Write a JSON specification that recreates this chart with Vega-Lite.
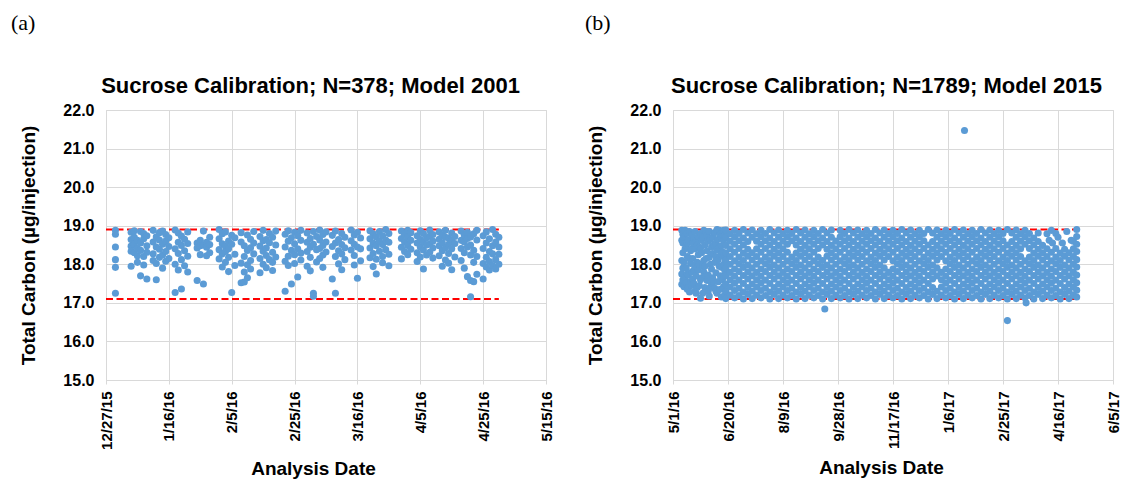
{
"$schema": "https://vega.github.io/schema/vega-lite/v6.json",
"background": "white",
"padding": {"left": 10, "top": 11, "right": 5, "bottom": 0},
"bounds": "flush",
"spacing": 127,
"config": {
"view": {"stroke": "#d9d9d9", "strokeWidth": 1},
"axis": {"labelFont": "Liberation Sans", "labelFontWeight": "bold", "labelFontSize": 15, "labelColor": "#000000", "titleFont": "Liberation Sans", "titleFontWeight": "bold", "titleFontSize": 19, "titleColor": "#000000", "gridColor": "#d9d9d9", "gridWidth": 1, "domainColor": "#d9d9d9", "tickColor": "#d9d9d9", "labelFlush": false, "labelOverlap": false},
"title": {"font": "Liberation Serif", "fontSize": 22, "fontWeight": "normal", "color": "#000000", "anchor": "start", "frame": "group", "offset": 40}
},
"hconcat": [
{
"width": 440, "height": 270,
"title": {"text": "(a)", "dx": -95},
"encoding": {
"y": {"field": "v", "type": "quantitative", "scale": {"domain": [15, 22], "nice": false, "zero": false},
"axis": {"orient": "left", "title": "Total Carbon (µg/injection)", "values": [15, 16, 17, 18, 19, 20, 21, 22], "tickCount": 8, "format": ".1f", "grid": true, "ticks": false, "tickSize": 0, "domain": false, "labelPadding": 12, "labelFontSize": 16, "titlePadding": 24}}
},
"layer": [
{
"data": {"values": [{"s1": 42365, "s2": 42490, "v": 18.9}, {"s1": 42365, "s2": 42490, "v": 17.1}]},
"mark": {"type": "rule", "color": "#ff0000", "strokeWidth": 2, "strokeDash": [7, 3.5]},
"encoding": {
"x": {"field": "s1", "type": "quantitative", "axis": {"orient": "top", "title": "Sucrose Calibration; N=378; Model 2001", "labels": false, "ticks": false, "grid": false, "domain": false, "titleFontSize": 22, "titlePadding": 12.5, "titleX": 204}},
"x2": {"field": "s2"}
}
},
{
"data": {"values": [
{"s":42368,"v":18.88},{"s":42368,"v":18.78},{"s":42368,"v":18.45},{"s":42368,"v":18.12},{"s":42368,"v":17.92},{"s":42368,"v":17.25},
{"s":42373,"v":18.83},{"s":42373,"v":18.64},{"s":42373,"v":18.47},{"s":42373,"v":18.34},{"s":42373,"v":17.95},
{"s":42374,"v":18.87},{"s":42374,"v":18.70},{"s":42374,"v":18.52},{"s":42374,"v":18.30},
{"s":42375,"v":18.62},{"s":42375,"v":18.41},{"s":42375,"v":18.22},{"s":42375,"v":18.05},
{"s":42376,"v":18.85},{"s":42376,"v":18.55},{"s":42376,"v":18.36},{"s":42376,"v":17.70},
{"s":42377,"v":18.80},{"s":42377,"v":18.66},{"s":42377,"v":18.20},{"s":42377,"v":17.98},
{"s":42378,"v":18.74},{"s":42378,"v":18.48},{"s":42378,"v":18.31},{"s":42378,"v":17.62},
{"s":42380,"v":18.88},{"s":42380,"v":18.58},{"s":42380,"v":18.27},{"s":42380,"v":18.10},
{"s":42381,"v":18.71},{"s":42381,"v":18.45},{"s":42381,"v":18.02},{"s":42381,"v":17.60},
{"s":42382,"v":18.82},{"s":42382,"v":18.63},{"s":42382,"v":18.39},{"s":42382,"v":18.18},
{"s":42383,"v":18.86},{"s":42383,"v":18.52},{"s":42383,"v":18.24},{"s":42383,"v":17.90},
{"s":42384,"v":18.77},{"s":42384,"v":18.60},{"s":42384,"v":18.33},{"s":42384,"v":18.08},
{"s":42385,"v":18.69},{"s":42385,"v":18.46},{"s":42385,"v":18.15},
{"s":42387,"v":18.89},{"s":42387,"v":18.40},{"s":42387,"v":18.00},{"s":42387,"v":17.27},
{"s":42388,"v":18.81},{"s":42388,"v":18.57},{"s":42388,"v":18.28},{"s":42388,"v":17.85},
{"s":42389,"v":18.73},{"s":42389,"v":18.49},{"s":42389,"v":18.12},{"s":42389,"v":17.36},
{"s":42390,"v":18.65},{"s":42390,"v":18.35},{"s":42390,"v":17.96},
{"s":42391,"v":18.84},{"s":42391,"v":18.54},{"s":42391,"v":18.21},{"s":42391,"v":17.80},
{"s":42394,"v":18.55},{"s":42394,"v":18.42},{"s":42394,"v":17.58},
{"s":42395,"v":18.62},{"s":42395,"v":18.48},{"s":42395,"v":18.25},
{"s":42396,"v":18.86},{"s":42396,"v":18.50},{"s":42396,"v":17.49},
{"s":42397,"v":18.57},{"s":42397,"v":18.44},{"s":42397,"v":18.22},
{"s":42398,"v":18.70},{"s":42398,"v":18.51},{"s":42398,"v":18.30},
{"s":42401,"v":18.90},{"s":42401,"v":18.66},{"s":42401,"v":18.38},{"s":42401,"v":18.14},
{"s":42402,"v":18.79},{"s":42402,"v":18.53},{"s":42402,"v":18.27},{"s":42402,"v":17.93},
{"s":42403,"v":18.84},{"s":42403,"v":18.47},{"s":42403,"v":18.33},{"s":42403,"v":18.05},
{"s":42404,"v":18.60},{"s":42404,"v":18.40},{"s":42404,"v":18.18},{"s":42404,"v":17.81},
{"s":42405,"v":18.75},{"s":42405,"v":18.52},{"s":42405,"v":17.27},
{"s":42406,"v":18.69},{"s":42406,"v":18.26},{"s":42406,"v":17.97},
{"s":42408,"v":18.82},{"s":42408,"v":18.58},{"s":42408,"v":18.03},{"s":42408,"v":17.52},
{"s":42409,"v":18.48},{"s":42409,"v":18.20},{"s":42409,"v":17.80},{"s":42409,"v":17.54},
{"s":42410,"v":18.76},{"s":42410,"v":18.36},{"s":42410,"v":17.99},{"s":42410,"v":17.65},
{"s":42411,"v":18.65},{"s":42411,"v":18.43},{"s":42411,"v":18.10},{"s":42411,"v":17.88},
{"s":42412,"v":18.85},{"s":42412,"v":18.55},{"s":42412,"v":18.27},
{"s":42414,"v":18.72},{"s":42414,"v":18.47},{"s":42414,"v":18.15},{"s":42414,"v":17.78},
{"s":42415,"v":18.88},{"s":42415,"v":18.61},{"s":42415,"v":18.34},{"s":42415,"v":18.00},
{"s":42416,"v":18.64},{"s":42416,"v":18.42},{"s":42416,"v":18.23},{"s":42416,"v":17.91},
{"s":42417,"v":18.80},{"s":42417,"v":18.56},{"s":42417,"v":18.12},
{"s":42418,"v":18.70},{"s":42418,"v":18.31},{"s":42418,"v":18.05},{"s":42418,"v":17.84},
{"s":42419,"v":18.86},{"s":42419,"v":18.50},{"s":42419,"v":18.19},
{"s":42422,"v":18.78},{"s":42422,"v":18.45},{"s":42422,"v":18.08},{"s":42422,"v":17.30},
{"s":42423,"v":18.87},{"s":42423,"v":18.60},{"s":42423,"v":18.21},{"s":42423,"v":17.97},
{"s":42424,"v":18.69},{"s":42424,"v":18.36},{"s":42424,"v":17.49},
{"s":42425,"v":18.83},{"s":42425,"v":18.53},{"s":42425,"v":18.25},{"s":42425,"v":18.02},
{"s":42426,"v":18.74},{"s":42426,"v":18.40},{"s":42426,"v":17.67},
{"s":42427,"v":18.88},{"s":42427,"v":18.62},{"s":42427,"v":18.29},{"s":42427,"v":18.11},
{"s":42429,"v":18.81},{"s":42429,"v":18.57},{"s":42429,"v":18.33},{"s":42429,"v":17.95},
{"s":42430,"v":18.67},{"s":42430,"v":18.44},{"s":42430,"v":18.18},{"s":42430,"v":17.83},
{"s":42431,"v":18.85},{"s":42431,"v":18.52},{"s":42431,"v":17.25},{"s":42431,"v":17.17},
{"s":42432,"v":18.72},{"s":42432,"v":18.38},{"s":42432,"v":18.06},
{"s":42433,"v":18.89},{"s":42433,"v":18.63},{"s":42433,"v":18.41},{"s":42433,"v":18.15},
{"s":42434,"v":18.77},{"s":42434,"v":18.49},{"s":42434,"v":18.24},{"s":42434,"v":17.92},
{"s":42435,"v":18.84},{"s":42435,"v":18.58},{"s":42435,"v":18.32},
{"s":42437,"v":18.75},{"s":42437,"v":18.46},{"s":42437,"v":17.62},
{"s":42438,"v":18.86},{"s":42438,"v":18.55},{"s":42438,"v":18.20},{"s":42438,"v":17.25},
{"s":42439,"v":18.64},{"s":42439,"v":18.35},{"s":42439,"v":18.01},
{"s":42440,"v":18.80},{"s":42440,"v":18.51},{"s":42440,"v":18.27},{"s":42440,"v":17.86},
{"s":42441,"v":18.70},{"s":42441,"v":18.43},{"s":42441,"v":18.12},
{"s":42443,"v":18.89},{"s":42443,"v":18.61},{"s":42443,"v":18.37},
{"s":42444,"v":18.76},{"s":42444,"v":18.52},{"s":42444,"v":18.23},{"s":42444,"v":17.98},
{"s":42445,"v":18.83},{"s":42445,"v":18.45},{"s":42445,"v":17.64},
{"s":42446,"v":18.68},{"s":42446,"v":18.40},{"s":42446,"v":18.09},
{"s":42449,"v":18.87},{"s":42449,"v":18.66},{"s":42449,"v":18.42},{"s":42449,"v":18.17},
{"s":42450,"v":18.79},{"s":42450,"v":18.55},{"s":42450,"v":18.28},{"s":42450,"v":17.94},
{"s":42451,"v":18.71},{"s":42451,"v":18.48},{"s":42451,"v":18.13},{"s":42451,"v":17.75},
{"s":42452,"v":18.85},{"s":42452,"v":18.60},{"s":42452,"v":18.34},
{"s":42453,"v":18.74},{"s":42453,"v":18.51},{"s":42453,"v":18.20},{"s":42453,"v":18.04},
{"s":42454,"v":18.90},{"s":42454,"v":18.63},{"s":42454,"v":18.38},
{"s":42455,"v":18.80},{"s":42455,"v":18.57},{"s":42455,"v":18.26},{"s":42455,"v":17.96},
{"s":42459,"v":18.86},{"s":42459,"v":18.67},{"s":42459,"v":18.44},{"s":42459,"v":18.14},
{"s":42460,"v":18.78},{"s":42460,"v":18.58},{"s":42460,"v":18.33},
{"s":42461,"v":18.88},{"s":42461,"v":18.70},{"s":42461,"v":18.49},{"s":42461,"v":18.25},
{"s":42462,"v":18.82},{"s":42462,"v":18.62},{"s":42462,"v":18.39},
{"s":42464,"v":18.74},{"s":42464,"v":18.55},{"s":42464,"v":18.30},{"s":42464,"v":18.07},
{"s":42465,"v":18.87},{"s":42465,"v":18.64},{"s":42465,"v":18.45},{"s":42465,"v":18.19},
{"s":42466,"v":18.80},{"s":42466,"v":18.58},{"s":42466,"v":18.37},{"s":42466,"v":17.88},
{"s":42467,"v":18.69},{"s":42467,"v":18.50},{"s":42467,"v":18.24},
{"s":42468,"v":18.89},{"s":42468,"v":18.73},{"s":42468,"v":18.53},{"s":42468,"v":18.31},
{"s":42469,"v":18.77},{"s":42469,"v":18.60},{"s":42469,"v":18.42},{"s":42469,"v":18.16},
{"s":42471,"v":18.84},{"s":42471,"v":18.65},{"s":42471,"v":18.48},{"s":42471,"v":18.22},
{"s":42472,"v":18.75},{"s":42472,"v":18.56},{"s":42472,"v":18.35},{"s":42472,"v":17.95},
{"s":42473,"v":18.88},{"s":42473,"v":18.70},{"s":42473,"v":18.43},{"s":42473,"v":18.11},
{"s":42474,"v":18.68},{"s":42474,"v":18.52},{"s":42474,"v":18.28},{"s":42474,"v":18.03},
{"s":42475,"v":18.81},{"s":42475,"v":18.61},{"s":42475,"v":18.40},{"s":42475,"v":17.86},
{"s":42476,"v":18.72},{"s":42476,"v":18.54},{"s":42476,"v":18.19},
{"s":42478,"v":18.86},{"s":42478,"v":18.62},{"s":42478,"v":18.41},{"s":42478,"v":18.10},
{"s":42479,"v":18.76},{"s":42479,"v":18.58},{"s":42479,"v":18.30},{"s":42479,"v":17.90},
{"s":42480,"v":18.83},{"s":42480,"v":18.67},{"s":42480,"v":18.45},{"s":42480,"v":17.68},
{"s":42481,"v":18.71},{"s":42481,"v":18.50},{"s":42481,"v":18.24},{"s":42481,"v":17.58},{"s":42481,"v":17.16},
{"s":42482,"v":18.79},{"s":42482,"v":18.36},{"s":42482,"v":18.05},{"s":42482,"v":17.55},
{"s":42483,"v":18.88},{"s":42483,"v":18.63},{"s":42483,"v":18.20},{"s":42483,"v":17.74},
{"s":42485,"v":18.74},{"s":42485,"v":18.41},{"s":42485,"v":18.02},{"s":42485,"v":17.62},
{"s":42486,"v":18.84},{"s":42486,"v":18.55},{"s":42486,"v":18.18},{"s":42486,"v":17.93},
{"s":42487,"v":18.66},{"s":42487,"v":18.33},{"s":42487,"v":18.07},{"s":42487,"v":17.85},
{"s":42488,"v":18.90},{"s":42488,"v":18.48},{"s":42488,"v":18.27},{"s":42488,"v":17.97},
{"s":42489,"v":18.78},{"s":42489,"v":18.58},{"s":42489,"v":18.12},{"s":42489,"v":17.88},
{"s":42490,"v":18.70},{"s":42490,"v":18.45},{"s":42490,"v":18.26},{"s":42490,"v":18.00}
]},
"mark": {"type": "circle", "size": 50, "color": "#5b9bd5", "opacity": 1},
"encoding": {
"x": {"field": "s", "type": "quantitative", "scale": {"domain": [42365, 42505], "nice": false, "zero": false},
"axis": {"orient": "bottom", "title": "Analysis Date", "values": [42365, 42385, 42405, 42425, 42445, 42465, 42485, 42505], "labelExpr": "utcFormat(utc(1899, 11, 30 + datum.value), '%-m/%-d/%y')", "labelAngle": -90, "grid": true, "ticks": true, "tickSize": 4, "labelPadding": 7, "domain": true, "titlePadding": 10, "titleX": 207}}
}
}
]
},
{
"width": 440, "height": 270,
"title": {"text": "(b)", "dx": -88},
"encoding": {
"y": {"field": "v", "type": "quantitative", "scale": {"domain": [15, 22], "nice": false, "zero": false},
"axis": {"orient": "left", "title": "Total Carbon (µg/injection)", "values": [15, 16, 17, 18, 19, 20, 21, 22], "tickCount": 8, "format": ".1f", "grid": true, "ticks": false, "tickSize": 0, "domain": false, "labelPadding": 12, "labelFontSize": 16, "titlePadding": 24}}
},
"layer": [
{
"data": {"values": [{"s1": 42491, "s2": 42858, "v": 18.9}, {"s1": 42491, "s2": 42858, "v": 17.1}]},
"mark": {"type": "rule", "color": "#ff0000", "strokeWidth": 2, "strokeDash": [7, 3.5]},
"encoding": {
"x": {"field": "s1", "type": "quantitative", "axis": {"orient": "top", "title": "Sucrose Calibration; N=1789; Model 2015", "labels": false, "ticks": false, "grid": false, "domain": false, "titleFontSize": 22, "titlePadding": 12.5, "titleX": 213}},
"x2": {"field": "s2"}
}
},
{
"data": {"values": [
{"s":42499,"v":18.62},{"s":42499,"v":17.75},{"s":42499,"v":17.48},{"s":42499,"v":18.88},{"s":42499,"v":18.10},
{"s":42500,"v":18.55},{"s":42500,"v":18.30},{"s":42500,"v":17.60},{"s":42500,"v":18.78},{"s":42500,"v":17.90},
{"s":42501,"v":18.70},{"s":42501,"v":18.05},{"s":42501,"v":17.42},
{"s":42502,"v":18.40},{"s":42502,"v":17.65},{"s":42502,"v":18.88},
{"s":42503,"v":18.48},{"s":42503,"v":17.90},{"s":42503,"v":17.52},
{"s":42504,"v":18.80},{"s":42504,"v":18.20},{"s":42504,"v":17.35},{"s":42504,"v":18.55},{"s":42504,"v":17.75},
{"s":42505,"v":18.62},{"s":42505,"v":17.72},{"s":42505,"v":17.40},
{"s":42506,"v":18.85},{"s":42506,"v":18.15},{"s":42506,"v":17.28},
{"s":42507,"v":18.35},{"s":42507,"v":18.02},{"s":42507,"v":17.55},
{"s":42508,"v":18.75},{"s":42508,"v":17.80},{"s":42508,"v":18.40},{"s":42508,"v":17.45},
{"s":42509,"v":18.55},{"s":42509,"v":18.15},{"s":42509,"v":17.62},
{"s":42510,"v":18.68},{"s":42510,"v":17.85},{"s":42510,"v":17.50},
{"s":42511,"v":18.85},{"s":42511,"v":18.40},{"s":42511,"v":17.95},{"s":42511,"v":17.30},
{"s":42512,"v":18.60},{"s":42512,"v":17.70},{"s":42512,"v":17.25},
{"s":42513,"v":18.50},{"s":42513,"v":18.05},{"s":42513,"v":17.40},
{"s":42514,"v":18.72},{"s":42514,"v":18.25},{"s":42514,"v":17.85},
{"s":42515,"v":18.45},{"s":42515,"v":18.00},{"s":42515,"v":17.45},
{"s":42516,"v":18.80},{"s":42516,"v":17.12},{"s":42516,"v":18.40},{"s":42516,"v":17.60},
{"s":42517,"v":18.62},{"s":42517,"v":18.30},{"s":42517,"v":17.65},
{"s":42518,"v":18.70},{"s":42518,"v":17.95},{"s":42518,"v":17.25},
{"s":42519,"v":18.88},{"s":42519,"v":18.10},{"s":42519,"v":17.80},
{"s":42520,"v":18.50},{"s":42520,"v":17.95},{"s":42520,"v":17.40},
{"s":42521,"v":18.85},{"s":42521,"v":18.15},{"s":42521,"v":17.70},
{"s":42522,"v":18.75},{"s":42522,"v":18.35},{"s":42522,"v":17.58},
{"s":42523,"v":18.60},{"s":42523,"v":17.72},{"s":42523,"v":17.30},
{"s":42524,"v":18.85},{"s":42524,"v":18.18},{"s":42524,"v":17.18},
{"s":42525,"v":18.65},{"s":42525,"v":18.00},{"s":42525,"v":17.40},
{"s":42526,"v":18.45},{"s":42526,"v":17.88},{"s":42526,"v":17.50},
{"s":42527,"v":18.70},{"s":42527,"v":18.28},{"s":42527,"v":17.65},
{"s":42528,"v":18.50},{"s":42528,"v":17.55},
{"s":42529,"v":18.82},{"s":42529,"v":18.05},{"s":42529,"v":17.38},
{"s":42530,"v":18.55},{"s":42530,"v":17.78},{"s":42530,"v":18.20},{"s":42530,"v":17.30},
{"s":42531,"v":18.90},{"s":42531,"v":18.38},{"s":42531,"v":17.25},
{"s":42532,"v":18.65},{"s":42532,"v":18.12},{"s":42532,"v":17.55},
{"s":42533,"v":18.88},{"s":42533,"v":18.45},{"s":42533,"v":17.95},
{"s":42534,"v":18.78},{"s":42534,"v":18.22},{"s":42534,"v":17.70},{"s":42534,"v":17.35},
{"s":42535,"v":18.48},{"s":42535,"v":17.92},{"s":42535,"v":17.15},{"s":42535,"v":18.70},{"s":42535,"v":18.25},
{"s":42536,"v":18.86},{"s":42536,"v":18.32},{"s":42536,"v":17.60},
{"s":42537,"v":18.62},{"s":42537,"v":18.00},{"s":42537,"v":17.42},{"s":42537,"v":18.88},{"s":42537,"v":17.70},
{"s":42538,"v":18.74},{"s":42538,"v":18.15},{"s":42538,"v":17.85},{"s":42538,"v":17.20},
{"s":42539,"v":17.11},{"s":42539,"v":17.30},{"s":42539,"v":17.49},{"s":42539,"v":17.70},{"s":42539,"v":17.90},{"s":42539,"v":18.11},{"s":42539,"v":18.30},{"s":42539,"v":18.49},{"s":42539,"v":18.70},{"s":42539,"v":18.89},
{"s":42543,"v":17.20},{"s":42543,"v":17.41},{"s":42543,"v":17.60},{"s":42543,"v":17.79},{"s":42543,"v":18.00},{"s":42543,"v":18.20},{"s":42543,"v":18.40},{"s":42543,"v":18.60},{"s":42543,"v":18.79},
{"s":42547,"v":17.13},{"s":42547,"v":17.32},{"s":42547,"v":17.51},{"s":42547,"v":17.69},{"s":42547,"v":17.88},{"s":42547,"v":18.09},{"s":42547,"v":18.31},{"s":42547,"v":18.52},{"s":42547,"v":18.71},{"s":42547,"v":18.88},
{"s":42551,"v":17.19},{"s":42551,"v":17.38},{"s":42551,"v":17.59},{"s":42551,"v":17.81},{"s":42551,"v":18.01},{"s":42551,"v":18.19},{"s":42551,"v":18.41},{"s":42551,"v":18.61},{"s":42551,"v":18.80},
{"s":42555,"v":17.10},{"s":42555,"v":17.28},{"s":42555,"v":17.50},{"s":42555,"v":17.71},{"s":42555,"v":17.92},{"s":42555,"v":18.10},{"s":42555,"v":18.29},{"s":42555,"v":18.50},{"s":42555,"v":18.68},{"s":42555,"v":18.90},
{"s":42559,"v":17.22},{"s":42559,"v":17.40},{"s":42559,"v":17.62},{"s":42559,"v":17.80},{"s":42559,"v":17.98},{"s":42559,"v":18.21},{"s":42559,"v":18.39},{"s":42559,"v":18.59},{"s":42559,"v":18.81},
{"s":42563,"v":17.11},{"s":42563,"v":17.30},{"s":42563,"v":17.49},{"s":42563,"v":17.70},{"s":42563,"v":17.90},{"s":42563,"v":18.11},{"s":42563,"v":18.30},{"s":42563,"v":18.70},{"s":42563,"v":18.89},
{"s":42567,"v":17.20},{"s":42567,"v":17.41},{"s":42567,"v":17.60},{"s":42567,"v":17.79},{"s":42567,"v":18.00},{"s":42567,"v":18.20},{"s":42567,"v":18.40},{"s":42567,"v":18.60},{"s":42567,"v":18.79},
{"s":42571,"v":17.13},{"s":42571,"v":17.32},{"s":42571,"v":17.51},{"s":42571,"v":17.69},{"s":42571,"v":17.88},{"s":42571,"v":18.09},{"s":42571,"v":18.31},{"s":42571,"v":18.52},{"s":42571,"v":18.71},{"s":42571,"v":18.88},
{"s":42575,"v":17.19},{"s":42575,"v":17.38},{"s":42575,"v":17.59},{"s":42575,"v":17.81},{"s":42575,"v":18.01},{"s":42575,"v":18.19},{"s":42575,"v":18.41},{"s":42575,"v":18.61},{"s":42575,"v":18.80},
{"s":42579,"v":17.10},{"s":42579,"v":17.28},{"s":42579,"v":17.50},{"s":42579,"v":17.71},{"s":42579,"v":17.92},{"s":42579,"v":18.10},{"s":42579,"v":18.29},{"s":42579,"v":18.50},{"s":42579,"v":18.68},{"s":42579,"v":18.90},
{"s":42583,"v":17.22},{"s":42583,"v":17.40},{"s":42583,"v":17.62},{"s":42583,"v":17.80},{"s":42583,"v":17.98},{"s":42583,"v":18.21},{"s":42583,"v":18.39},{"s":42583,"v":18.59},{"s":42583,"v":18.81},
{"s":42587,"v":17.11},{"s":42587,"v":17.30},{"s":42587,"v":17.49},{"s":42587,"v":17.70},{"s":42587,"v":17.90},{"s":42587,"v":18.11},{"s":42587,"v":18.30},{"s":42587,"v":18.49},{"s":42587,"v":18.70},{"s":42587,"v":18.89},
{"s":42591,"v":17.20},{"s":42591,"v":17.41},{"s":42591,"v":17.60},{"s":42591,"v":17.79},{"s":42591,"v":18.00},{"s":42591,"v":18.20},{"s":42591,"v":18.40},{"s":42591,"v":18.60},{"s":42591,"v":18.79},
{"s":42595,"v":17.13},{"s":42595,"v":17.32},{"s":42595,"v":17.51},{"s":42595,"v":17.69},{"s":42595,"v":17.88},{"s":42595,"v":18.09},{"s":42595,"v":18.31},{"s":42595,"v":18.52},{"s":42595,"v":18.71},{"s":42595,"v":18.88},
{"s":42599,"v":17.19},{"s":42599,"v":17.38},{"s":42599,"v":17.59},{"s":42599,"v":17.81},{"s":42599,"v":18.01},{"s":42599,"v":18.19},{"s":42599,"v":18.61},{"s":42599,"v":18.80},
{"s":42603,"v":17.10},{"s":42603,"v":17.28},{"s":42603,"v":17.50},{"s":42603,"v":17.71},{"s":42603,"v":17.92},{"s":42603,"v":18.10},{"s":42603,"v":18.29},{"s":42603,"v":18.50},{"s":42603,"v":18.68},{"s":42603,"v":18.90},
{"s":42607,"v":17.22},{"s":42607,"v":17.40},{"s":42607,"v":17.62},{"s":42607,"v":17.80},{"s":42607,"v":17.98},{"s":42607,"v":18.21},{"s":42607,"v":18.39},{"s":42607,"v":18.59},{"s":42607,"v":18.81},
{"s":42611,"v":17.11},{"s":42611,"v":17.30},{"s":42611,"v":17.49},{"s":42611,"v":17.70},{"s":42611,"v":17.90},{"s":42611,"v":18.11},{"s":42611,"v":18.30},{"s":42611,"v":18.49},{"s":42611,"v":18.70},{"s":42611,"v":18.89},
{"s":42615,"v":17.20},{"s":42615,"v":17.41},{"s":42615,"v":17.60},{"s":42615,"v":17.79},{"s":42615,"v":18.00},{"s":42615,"v":18.20},{"s":42615,"v":18.40},{"s":42615,"v":18.60},{"s":42615,"v":18.79},
{"s":42619,"v":17.13},{"s":42619,"v":17.32},{"s":42619,"v":17.51},{"s":42619,"v":17.69},{"s":42619,"v":17.88},{"s":42619,"v":18.09},{"s":42619,"v":18.31},{"s":42619,"v":18.52},{"s":42619,"v":18.71},{"s":42619,"v":18.88},
{"s":42623,"v":17.19},{"s":42623,"v":17.38},{"s":42623,"v":17.59},{"s":42623,"v":17.81},{"s":42623,"v":18.01},{"s":42623,"v":18.19},{"s":42623,"v":18.41},{"s":42623,"v":18.61},{"s":42623,"v":18.80},
{"s":42627,"v":17.10},{"s":42627,"v":17.28},{"s":42627,"v":17.50},{"s":42627,"v":17.71},{"s":42627,"v":17.92},{"s":42627,"v":18.10},{"s":42627,"v":18.50},{"s":42627,"v":18.68},{"s":42627,"v":18.90},
{"s":42631,"v":17.22},{"s":42631,"v":17.40},{"s":42631,"v":17.62},{"s":42631,"v":17.80},{"s":42631,"v":17.98},{"s":42631,"v":18.21},{"s":42631,"v":18.39},{"s":42631,"v":18.59},{"s":42631,"v":18.81},
{"s":42635,"v":17.11},{"s":42635,"v":17.30},{"s":42635,"v":17.49},{"s":42635,"v":17.70},{"s":42635,"v":17.90},{"s":42635,"v":18.11},{"s":42635,"v":18.30},{"s":42635,"v":18.49},{"s":42635,"v":18.70},{"s":42635,"v":18.89},
{"s":42639,"v":17.20},{"s":42639,"v":17.41},{"s":42639,"v":17.60},{"s":42639,"v":17.79},{"s":42639,"v":18.00},{"s":42639,"v":18.20},{"s":42639,"v":18.40},{"s":42639,"v":18.60},
{"s":42643,"v":17.13},{"s":42643,"v":17.32},{"s":42643,"v":17.51},{"s":42643,"v":17.69},{"s":42643,"v":17.88},{"s":42643,"v":18.09},{"s":42643,"v":18.31},{"s":42643,"v":18.52},{"s":42643,"v":18.71},{"s":42643,"v":18.88},
{"s":42647,"v":17.19},{"s":42647,"v":17.38},{"s":42647,"v":17.59},{"s":42647,"v":17.81},{"s":42647,"v":18.01},{"s":42647,"v":18.19},{"s":42647,"v":18.41},{"s":42647,"v":18.61},{"s":42647,"v":18.80},
{"s":42651,"v":17.10},{"s":42651,"v":17.28},{"s":42651,"v":17.50},{"s":42651,"v":17.71},{"s":42651,"v":17.92},{"s":42651,"v":18.10},{"s":42651,"v":18.29},{"s":42651,"v":18.50},{"s":42651,"v":18.68},{"s":42651,"v":18.90},
{"s":42655,"v":17.22},{"s":42655,"v":17.40},{"s":42655,"v":17.62},{"s":42655,"v":17.80},{"s":42655,"v":17.98},{"s":42655,"v":18.21},{"s":42655,"v":18.39},{"s":42655,"v":18.59},{"s":42655,"v":18.81},
{"s":42659,"v":17.11},{"s":42659,"v":17.30},{"s":42659,"v":17.49},{"s":42659,"v":17.70},{"s":42659,"v":17.90},{"s":42659,"v":18.11},{"s":42659,"v":18.30},{"s":42659,"v":18.49},{"s":42659,"v":18.70},{"s":42659,"v":18.89},
{"s":42663,"v":17.20},{"s":42663,"v":17.41},{"s":42663,"v":17.60},{"s":42663,"v":17.79},{"s":42663,"v":18.00},{"s":42663,"v":18.20},{"s":42663,"v":18.40},{"s":42663,"v":18.60},{"s":42663,"v":18.79},
{"s":42667,"v":17.13},{"s":42667,"v":17.32},{"s":42667,"v":17.51},{"s":42667,"v":17.69},{"s":42667,"v":17.88},{"s":42667,"v":18.09},{"s":42667,"v":18.31},{"s":42667,"v":18.52},{"s":42667,"v":18.71},{"s":42667,"v":18.88},
{"s":42671,"v":17.19},{"s":42671,"v":17.38},{"s":42671,"v":17.59},{"s":42671,"v":17.81},{"s":42671,"v":18.01},{"s":42671,"v":18.19},{"s":42671,"v":18.41},{"s":42671,"v":18.61},{"s":42671,"v":18.80},
{"s":42675,"v":17.10},{"s":42675,"v":17.28},{"s":42675,"v":17.50},{"s":42675,"v":17.71},{"s":42675,"v":17.92},{"s":42675,"v":18.10},{"s":42675,"v":18.29},{"s":42675,"v":18.50},{"s":42675,"v":18.68},{"s":42675,"v":18.90},
{"s":42679,"v":17.22},{"s":42679,"v":17.40},{"s":42679,"v":17.62},{"s":42679,"v":17.80},{"s":42679,"v":17.98},{"s":42679,"v":18.21},{"s":42679,"v":18.39},{"s":42679,"v":18.59},{"s":42679,"v":18.81},
{"s":42683,"v":17.11},{"s":42683,"v":17.30},{"s":42683,"v":17.49},{"s":42683,"v":17.70},{"s":42683,"v":17.90},{"s":42683,"v":18.11},{"s":42683,"v":18.30},{"s":42683,"v":18.49},{"s":42683,"v":18.70},{"s":42683,"v":18.89},
{"s":42687,"v":17.20},{"s":42687,"v":17.41},{"s":42687,"v":17.60},{"s":42687,"v":17.79},{"s":42687,"v":18.20},{"s":42687,"v":18.40},{"s":42687,"v":18.60},{"s":42687,"v":18.79},
{"s":42691,"v":17.13},{"s":42691,"v":17.32},{"s":42691,"v":17.51},{"s":42691,"v":17.69},{"s":42691,"v":17.88},{"s":42691,"v":18.09},{"s":42691,"v":18.31},{"s":42691,"v":18.52},{"s":42691,"v":18.71},{"s":42691,"v":18.88},
{"s":42695,"v":17.19},{"s":42695,"v":17.38},{"s":42695,"v":17.59},{"s":42695,"v":17.81},{"s":42695,"v":18.01},{"s":42695,"v":18.19},{"s":42695,"v":18.41},{"s":42695,"v":18.61},{"s":42695,"v":18.80},
{"s":42699,"v":17.10},{"s":42699,"v":17.28},{"s":42699,"v":17.50},{"s":42699,"v":17.71},{"s":42699,"v":17.92},{"s":42699,"v":18.10},{"s":42699,"v":18.29},{"s":42699,"v":18.50},{"s":42699,"v":18.68},{"s":42699,"v":18.90},
{"s":42703,"v":17.22},{"s":42703,"v":17.40},{"s":42703,"v":17.62},{"s":42703,"v":17.80},{"s":42703,"v":17.98},{"s":42703,"v":18.21},{"s":42703,"v":18.39},{"s":42703,"v":18.59},{"s":42703,"v":18.81},
{"s":42707,"v":17.11},{"s":42707,"v":17.30},{"s":42707,"v":17.49},{"s":42707,"v":17.70},{"s":42707,"v":17.90},{"s":42707,"v":18.11},{"s":42707,"v":18.30},{"s":42707,"v":18.49},{"s":42707,"v":18.70},{"s":42707,"v":18.89},
{"s":42711,"v":17.20},{"s":42711,"v":17.41},{"s":42711,"v":17.60},{"s":42711,"v":17.79},{"s":42711,"v":18.00},{"s":42711,"v":18.20},{"s":42711,"v":18.40},{"s":42711,"v":18.60},{"s":42711,"v":18.79},
{"s":42715,"v":17.13},{"s":42715,"v":17.32},{"s":42715,"v":17.51},{"s":42715,"v":17.69},{"s":42715,"v":17.88},{"s":42715,"v":18.09},{"s":42715,"v":18.31},{"s":42715,"v":18.52},{"s":42715,"v":18.71},{"s":42715,"v":18.88},
{"s":42719,"v":17.19},{"s":42719,"v":17.38},{"s":42719,"v":17.59},{"s":42719,"v":17.81},{"s":42719,"v":18.01},{"s":42719,"v":18.19},{"s":42719,"v":18.41},{"s":42719,"v":18.61},{"s":42719,"v":18.80},
{"s":42723,"v":17.10},{"s":42723,"v":17.28},{"s":42723,"v":17.50},{"s":42723,"v":17.71},{"s":42723,"v":17.92},{"s":42723,"v":18.10},{"s":42723,"v":18.29},{"s":42723,"v":18.50},{"s":42723,"v":18.90},
{"s":42727,"v":17.22},{"s":42727,"v":17.40},{"s":42727,"v":17.62},{"s":42727,"v":17.80},{"s":42727,"v":17.98},{"s":42727,"v":18.21},{"s":42727,"v":18.39},{"s":42727,"v":18.59},{"s":42727,"v":18.81},
{"s":42731,"v":17.11},{"s":42731,"v":17.30},{"s":42731,"v":17.70},{"s":42731,"v":17.90},{"s":42731,"v":18.11},{"s":42731,"v":18.30},{"s":42731,"v":18.49},{"s":42731,"v":18.70},{"s":42731,"v":18.89},
{"s":42735,"v":17.20},{"s":42735,"v":17.41},{"s":42735,"v":17.60},{"s":42735,"v":17.79},{"s":42735,"v":18.20},{"s":42735,"v":18.40},{"s":42735,"v":18.60},{"s":42735,"v":18.79},
{"s":42739,"v":17.13},{"s":42739,"v":17.32},{"s":42739,"v":17.51},{"s":42739,"v":17.69},{"s":42739,"v":17.88},{"s":42739,"v":18.09},{"s":42739,"v":18.31},{"s":42739,"v":18.52},{"s":42739,"v":18.71},{"s":42739,"v":18.88},
{"s":42743,"v":17.19},{"s":42743,"v":17.38},{"s":42743,"v":17.59},{"s":42743,"v":17.81},{"s":42743,"v":18.01},{"s":42743,"v":18.19},{"s":42743,"v":18.41},{"s":42743,"v":18.61},{"s":42743,"v":18.80},
{"s":42747,"v":17.10},{"s":42747,"v":17.28},{"s":42747,"v":17.50},{"s":42747,"v":17.71},{"s":42747,"v":17.92},{"s":42747,"v":18.10},{"s":42747,"v":18.29},{"s":42747,"v":18.50},{"s":42747,"v":18.68},{"s":42747,"v":18.90},
{"s":42751,"v":17.22},{"s":42751,"v":17.40},{"s":42751,"v":17.62},{"s":42751,"v":17.80},{"s":42751,"v":17.98},{"s":42751,"v":18.21},{"s":42751,"v":18.39},{"s":42751,"v":18.59},{"s":42751,"v":18.81},
{"s":42755,"v":17.11},{"s":42755,"v":17.30},{"s":42755,"v":17.49},{"s":42755,"v":17.70},{"s":42755,"v":17.90},{"s":42755,"v":18.11},{"s":42755,"v":18.30},{"s":42755,"v":18.49},{"s":42755,"v":18.70},{"s":42755,"v":18.89},
{"s":42759,"v":17.20},{"s":42759,"v":17.41},{"s":42759,"v":17.60},{"s":42759,"v":17.79},{"s":42759,"v":18.00},{"s":42759,"v":18.20},{"s":42759,"v":18.40},{"s":42759,"v":18.60},{"s":42759,"v":18.79},
{"s":42763,"v":17.13},{"s":42763,"v":17.32},{"s":42763,"v":17.51},{"s":42763,"v":17.69},{"s":42763,"v":17.88},{"s":42763,"v":18.09},{"s":42763,"v":18.31},{"s":42763,"v":18.52},{"s":42763,"v":18.71},{"s":42763,"v":18.88},
{"s":42767,"v":17.19},{"s":42767,"v":17.38},{"s":42767,"v":17.59},{"s":42767,"v":17.81},{"s":42767,"v":18.01},{"s":42767,"v":18.19},{"s":42767,"v":18.41},{"s":42767,"v":18.61},{"s":42767,"v":18.80},
{"s":42771,"v":17.10},{"s":42771,"v":17.28},{"s":42771,"v":17.50},{"s":42771,"v":17.71},{"s":42771,"v":17.92},{"s":42771,"v":18.10},{"s":42771,"v":18.29},{"s":42771,"v":18.50},{"s":42771,"v":18.68},{"s":42771,"v":18.90},
{"s":42775,"v":17.22},{"s":42775,"v":17.40},{"s":42775,"v":17.62},{"s":42775,"v":17.80},{"s":42775,"v":17.98},{"s":42775,"v":18.21},{"s":42775,"v":18.39},{"s":42775,"v":18.59},{"s":42775,"v":18.81},
{"s":42779,"v":17.11},{"s":42779,"v":17.30},{"s":42779,"v":17.49},{"s":42779,"v":17.70},{"s":42779,"v":17.90},{"s":42779,"v":18.11},{"s":42779,"v":18.30},{"s":42779,"v":18.49},{"s":42779,"v":18.70},{"s":42779,"v":18.89},
{"s":42783,"v":17.20},{"s":42783,"v":17.41},{"s":42783,"v":17.60},{"s":42783,"v":17.79},{"s":42783,"v":18.00},{"s":42783,"v":18.20},{"s":42783,"v":18.40},{"s":42783,"v":18.60},{"s":42783,"v":18.79},
{"s":42787,"v":17.13},{"s":42787,"v":17.32},{"s":42787,"v":17.51},{"s":42787,"v":17.69},{"s":42787,"v":17.88},{"s":42787,"v":18.09},{"s":42787,"v":18.31},{"s":42787,"v":18.52},{"s":42787,"v":18.71},{"s":42787,"v":18.88},
{"s":42791,"v":17.19},{"s":42791,"v":17.38},{"s":42791,"v":17.59},{"s":42791,"v":17.81},{"s":42791,"v":18.01},{"s":42791,"v":18.19},{"s":42791,"v":18.41},{"s":42791,"v":18.61},{"s":42791,"v":18.80},
{"s":42795,"v":17.10},{"s":42795,"v":17.28},{"s":42795,"v":17.50},{"s":42795,"v":17.71},{"s":42795,"v":17.92},{"s":42795,"v":18.10},{"s":42795,"v":18.29},{"s":42795,"v":18.50},{"s":42795,"v":18.90},
{"s":42799,"v":17.22},{"s":42799,"v":17.40},{"s":42799,"v":17.62},{"s":42799,"v":17.80},{"s":42799,"v":17.98},{"s":42799,"v":18.21},{"s":42799,"v":18.39},{"s":42799,"v":18.59},{"s":42799,"v":18.81},
{"s":42803,"v":17.11},{"s":42803,"v":17.30},{"s":42803,"v":17.49},{"s":42803,"v":17.70},{"s":42803,"v":17.90},{"s":42803,"v":18.11},{"s":42803,"v":18.30},{"s":42803,"v":18.49},{"s":42803,"v":18.70},{"s":42803,"v":18.89},
{"s":42807,"v":17.20},{"s":42807,"v":17.41},{"s":42807,"v":17.60},{"s":42807,"v":17.79},{"s":42807,"v":18.00},{"s":42807,"v":18.20},{"s":42807,"v":18.40},{"s":42807,"v":18.60},{"s":42807,"v":18.79},
{"s":42811,"v":17.13},{"s":42811,"v":17.32},{"s":42811,"v":17.51},{"s":42811,"v":17.69},{"s":42811,"v":17.88},{"s":42811,"v":18.09},{"s":42811,"v":18.52},{"s":42811,"v":18.71},{"s":42811,"v":18.88},
{"s":42815,"v":17.19},{"s":42815,"v":17.38},{"s":42815,"v":17.59},{"s":42815,"v":17.81},{"s":42815,"v":18.01},{"s":42815,"v":18.19},{"s":42815,"v":18.41},{"s":42815,"v":18.61},{"s":42815,"v":18.80},
{"s":42819,"v":17.10},{"s":42819,"v":17.28},{"s":42819,"v":17.50},{"s":42819,"v":17.71},{"s":42819,"v":17.92},{"s":42819,"v":18.10},{"s":42819,"v":18.29},{"s":42819,"v":18.50},{"s":42819,"v":18.68},
{"s":42823,"v":17.22},{"s":42823,"v":17.40},{"s":42823,"v":17.62},{"s":42823,"v":17.80},{"s":42823,"v":17.98},{"s":42823,"v":18.21},{"s":42823,"v":18.39},{"s":42823,"v":18.59},{"s":42823,"v":18.81},
{"s":42827,"v":17.11},{"s":42827,"v":17.30},{"s":42827,"v":17.49},{"s":42827,"v":17.70},{"s":42827,"v":17.90},{"s":42827,"v":18.11},{"s":42827,"v":18.30},{"s":42827,"v":18.49},
{"s":42831,"v":17.20},{"s":42831,"v":17.41},{"s":42831,"v":17.60},{"s":42831,"v":17.79},{"s":42831,"v":18.00},{"s":42831,"v":18.20},{"s":42831,"v":18.40},{"s":42831,"v":18.79},
{"s":42833,"v":18.62},
{"s":42835,"v":17.13},{"s":42835,"v":17.32},{"s":42835,"v":17.51},{"s":42835,"v":17.69},{"s":42835,"v":17.88},{"s":42835,"v":18.09},{"s":42835,"v":18.31},{"s":42835,"v":18.88},
{"s":42836,"v":18.55},
{"s":42839,"v":17.19},{"s":42839,"v":17.38},{"s":42839,"v":17.59},{"s":42839,"v":17.81},{"s":42839,"v":18.01},{"s":42839,"v":18.19},{"s":42839,"v":18.41},{"s":42839,"v":18.80},
{"s":42841,"v":18.70},
{"s":42843,"v":17.10},{"s":42843,"v":17.28},{"s":42843,"v":17.50},{"s":42843,"v":17.71},{"s":42843,"v":17.92},{"s":42843,"v":18.10},{"s":42843,"v":18.29},
{"s":42845,"v":18.55},
{"s":42847,"v":17.22},{"s":42847,"v":17.40},{"s":42847,"v":17.62},{"s":42847,"v":17.80},{"s":42847,"v":17.98},{"s":42847,"v":18.21},{"s":42847,"v":18.39},
{"s":42849,"v":18.85},
{"s":42851,"v":17.11},{"s":42851,"v":17.30},{"s":42851,"v":17.49},{"s":42851,"v":17.70},{"s":42851,"v":17.90},{"s":42851,"v":18.11},{"s":42851,"v":18.30},
{"s":42853,"v":18.62},
{"s":42855,"v":17.20},{"s":42855,"v":17.41},{"s":42855,"v":17.60},{"s":42855,"v":17.79},{"s":42855,"v":18.00},{"s":42855,"v":18.20},{"s":42855,"v":18.40},{"s":42855,"v":18.60},
{"s":42858,"v":18.90},{"s":42858,"v":18.72},{"s":42858,"v":18.52},{"s":42858,"v":18.33},{"s":42858,"v":18.12},{"s":42858,"v":17.93},{"s":42858,"v":17.72},{"s":42858,"v":17.52},{"s":42858,"v":17.33},{"s":42858,"v":17.15},
{"s":42629,"v":16.84},{"s":42795,"v":16.54},{"s":42812,"v":17.00},{"s":42756,"v":21.47}
]},
"mark": {"type": "circle", "size": 50, "color": "#5b9bd5", "opacity": 1},
"encoding": {
"x": {"field": "s", "type": "quantitative", "scale": {"domain": [42491, 42891], "nice": false, "zero": false},
"axis": {"orient": "bottom", "title": "Analysis Date", "values": [42491, 42541, 42591, 42641, 42691, 42741, 42791, 42841, 42891], "labelExpr": "utcFormat(utc(1899, 11, 30 + datum.value), '%-m/%-d/%y')", "labelAngle": -90, "grid": true, "ticks": true, "tickSize": 4, "labelPadding": 7, "domain": true, "titlePadding": 10, "titleX": 208}}
}
}
]
}
]
}
